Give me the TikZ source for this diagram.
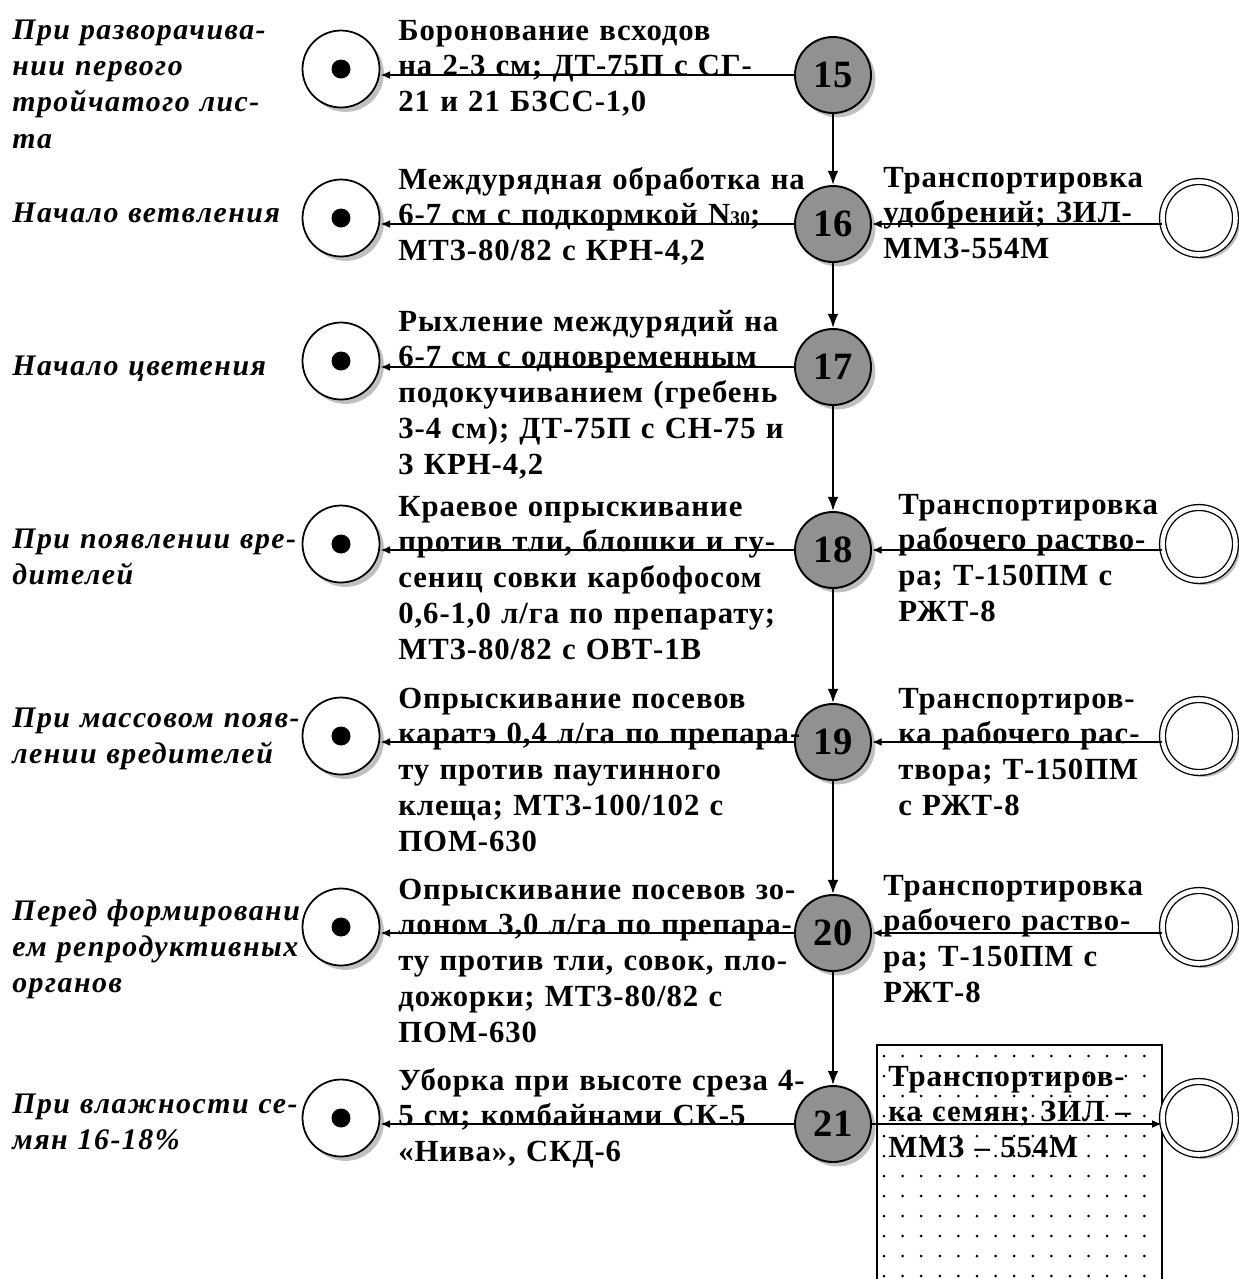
\documentclass[tikz,border=0pt]{standalone}
\usepackage{fontspec}
\setmainfont{Liberation Serif}
\newfontfamily\opfont[LetterSpace=3]{Liberation Serif}
\newfontfamily\phfont[LetterSpace=5]{Liberation Serif}
\usetikzlibrary{arrows.meta,shapes.geometric,shadows}
\definecolor{numgray}{RGB}{145,145,145}
\definecolor{shadowgray}{RGB}{150,150,150}
\tikzset{
  num-node/.style={circle, draw=black, line width=1.1pt, fill=numgray,
    minimum size=1.52cm, inner sep=0pt, font=\fontsize{22}{22}\selectfont\bfseries,
    drop shadow={shadow xshift=2.5pt, shadow yshift=-2.5pt, fill=shadowgray, opacity=.6}},
  stage-node/.style={circle, draw=black, line width=1pt, fill=white,
    minimum size=1.54cm, inner sep=0pt,
    drop shadow={shadow xshift=2.5pt, shadow yshift=-2.5pt, fill=shadowgray, opacity=.6},
    path picture={\fill[black] (path picture bounding box.center) circle (0.19cm);}},
  ring-node/.style={circle, draw=black, line width=0.75pt, double=white,
    double distance=2.6pt, fill=white, minimum size=1.46cm, inner sep=0pt,
    drop shadow={shadow xshift=2.5pt, shadow yshift=-2.5pt, fill=shadowgray, opacity=.6}},
  op-text/.style={anchor=base west, inner sep=0pt, text width=8.6cm, align=left,
    font=\opfont\fontsize{17.5}{20.4}\selectfont\bfseries},
  phase-text/.style={anchor=base west, inner sep=0pt, text width=6.2cm, align=left,
    font=\phfont\fontsize{17}{20.7}\selectfont\bfseries\itshape},
  flow-arrow/.style={-{Latex[length=5.5pt,width=4.5pt]}, line width=1.1pt},
  down-arrow/.style={-{Latex[length=8pt,width=6pt]}, line width=1.1pt}
}
\begin{document}
\begin{tikzpicture}[x=0.02cm,y=-0.02cm]
\useasboundingbox (0,0) rectangle (1239,1279);
% dotted box of the last transport
\draw[line width=0.8pt] (877,1300) -- (877,1045) -- (1162,1045) -- (1162,1300);
\foreach \dx in {0,...,14}
  \foreach \dy in {0,...,11}
    \fill (884+\dx*18.6,1056+\dy*20) circle (1.5);
% steps
\foreach \i/\y in {15/75,16/224,17/367,18/550,19/742,20/933,21/1124}{
  \node[num-node] (n\i) at (833,\y) {\i};
  \node[stage-node] (s\i) at (341,\y-6) {};
  \draw[flow-arrow] (n\i.west) -- (n\i.west -| s\i.east);
}
\foreach \a/\b in {15/16,16/17,17/18,18/19,19/20,20/21}
  \draw[down-arrow] (n\a.south) -- (n\b.north);
\foreach \i/\y in {16/218,18/544,19/736,20/927}{
  \node[ring-node] (t\i) at (1199,\y) {};
  \draw[flow-arrow] (n\i.east -| t\i.west) -- (n\i.east);
}
\node[ring-node] (t21) at (1199,1118) {};
\draw[flow-arrow] (n21.east) -- (n21.east -| t21.west);
% phases
\node[phase-text] (ph15) at (12,39) {При разворачива-\\нии первого\\тройчатого лис-\\та};
\node[phase-text] (ph16) at (12,222) {Начало ветвления};
\node[phase-text] (ph17) at (12,375) {Начало цветения};
\node[phase-text] (ph18) at (12,548) {При появлении вре-\\дителей};
\node[phase-text] (ph19) at (12,727) {При массовом появ-\\лении вредителей};
\node[phase-text] (ph20) at (12,920) {Перед формировани\\ем репродуктивных\\органов};
\node[phase-text] (ph21) at (12,1113) {При влажности се-\\мян 16-18\%};
% operations
\node[op-text] (op15) at (398,40) {Боронование всходов\\на 2-3 см; ДТ-75П с СГ-\\21 и 21 БЗСС-1,0};
\node[op-text] (op16) at (398,189) {Междурядная обработка на\\6-7 см с подкормкой N{\fontsize{11}{11}\selectfont 30};\\МТЗ-80/82 с КРН-4,2};
\node[op-text] (op17) at (398,331) {Рыхление междурядий на\\6-7 см с одновременным\\подокучиванием (гребень\\3-4 см); ДТ-75П с СН-75 и\\3 КРН-4,2};
\node[op-text] (op18) at (398,516) {Краевое опрыскивание\\против тли, блошки и гу-\\сениц совки карбофосом\\0,6-1,0 л/га по препарату;\\МТЗ-80/82 с ОВТ-1В};
\node[op-text] (op19) at (398,708) {Опрыскивание посевов\\каратэ 0,4 л/га по препара-\\ту против паутинного\\клеща; МТЗ-100/102 с\\ПОМ-630};
\node[op-text] (op20) at (398,899) {Опрыскивание посевов зо-\\лоном 3,0 л/га по препара-\\ту против тли, совок, пло-\\дожорки; МТЗ-80/82 с\\ПОМ-630};
\node[op-text] (op21) at (398,1090) {Уборка при высоте среза 4-\\5 см; комбайнами СК-5\\«Нива», СКД-6};
% transport
\node[op-text, text width=5.6cm] (tr16) at (883,187) {Транспортировка\\удобрений; ЗИЛ-\\ММЗ-554М};
\node[op-text, text width=5.6cm] (tr18) at (898,514) {Транспортировка\\рабочего раство-\\ра; Т-150ПМ с\\РЖТ-8};
\node[op-text, text width=5.6cm] (tr19) at (898,708) {Транспортиров-\\ка рабочего рас-\\твора; Т-150ПМ\\с РЖТ-8};
\node[op-text, text width=5.6cm] (tr20) at (883,895) {Транспортировка\\рабочего раство-\\ра; Т-150ПМ с\\РЖТ-8};
\node[op-text, text width=5.6cm] (tr21) at (888,1086) {Транспортиров-\\ка семян; ЗИЛ –\\ММЗ – 554М};
\end{tikzpicture}
\end{document}
